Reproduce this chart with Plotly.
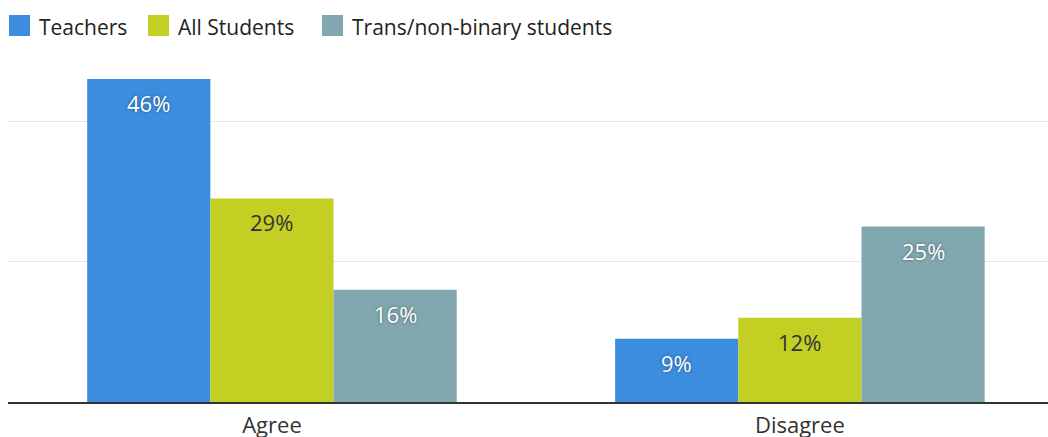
import plotly.graph_objects as go

categories = ["Agree", "Disagree"]
series_names = ["Teachers", "All Students", "Trans/non-binary students"]
teachers = [46, 9]
all_students = [29, 12]
trans_students = [16, 25]
colors = ["#3C8DDE", "#C3CF23", "#80A8AE"]
label_colors = ["#FFFFFF", "#333333", "#FFFFFF"]

values = [teachers, all_students, trans_students]
FONT = "'Open Sans', Lato, sans-serif"

W, H = 1048, 437
ML, MR, MT, MB = 8, 0, 51, 35
PW, PH = W - ML - MR, H - MT - MB

fig = go.Figure()
for name, vals, col in zip(series_names, values, colors):
    fig.add_trace(go.Bar(x=categories, y=vals, name=name, marker=dict(color=col, line=dict(width=0)),
                         showlegend=False, hoverinfo="skip"))

bargap = 0.3
bw = (1 - bargap) / len(series_names)
annotations = []
for k, (vals, lc) in enumerate(zip(values, label_colors)):
    for i, v in enumerate(vals):
        annotations.append(dict(
            x=i + (k - 1) * bw, y=v, xref="x", yref="y", text=f"{v}%", showarrow=False,
            yanchor="middle", yshift=-24,
            font=dict(family=FONT, size=22, color=lc,
                      shadow="0px 0px 3px rgba(0,0,0,0.45)" if lc == "#FFFFFF" else "none")))

# custom legend (pixel positions converted to paper coords)
def px_x(p):
    return (p - ML) / PW

def px_y(p):
    return (H - MB - p) / PH

shapes = []
legend_x = [9, 148, 322]
for name, col, lx in zip(series_names, colors, legend_x):
    shapes.append(dict(type="rect", xref="paper", yref="paper",
                       x0=px_x(lx), x1=px_x(lx + 21), y0=px_y(36), y1=px_y(15),
                       fillcolor=col, line=dict(width=0)))
    annotations.append(dict(x=px_x(lx + 28), y=px_y(27), xref="paper", yref="paper",
                            text=name, showarrow=False, xanchor="left", yanchor="middle",
                            font=dict(family=FONT, size=21, color="#222222")))

fig.update_layout(
    width=W, height=H,
    margin=dict(l=ML, r=MR, t=MT, b=MB, autoexpand=False),
    plot_bgcolor="white", paper_bgcolor="white",
    barmode="group", bargap=bargap, bargroupgap=0,
    shapes=shapes, annotations=annotations,
    font=dict(family=FONT, size=20, color="#333333"),
    xaxis=dict(range=[-0.5, 1.47], showgrid=False, showline=True, linecolor="#333333", linewidth=1.5,
               ticks="", tickfont=dict(size=22, color="#333333"), ticklabelstandoff=3,
               automargin=False, fixedrange=True),
    yaxis=dict(range=[0, 50], dtick=20, showgrid=True, gridcolor="#E6E6E6", gridwidth=1,
               showticklabels=False, zeroline=False, showline=False, automargin=False,
               fixedrange=True),
)

fig.write_html("out.html", config={"displayModeBar": False},
               post_script="document.body.style.margin='0';document.body.style.overflow='hidden';")
